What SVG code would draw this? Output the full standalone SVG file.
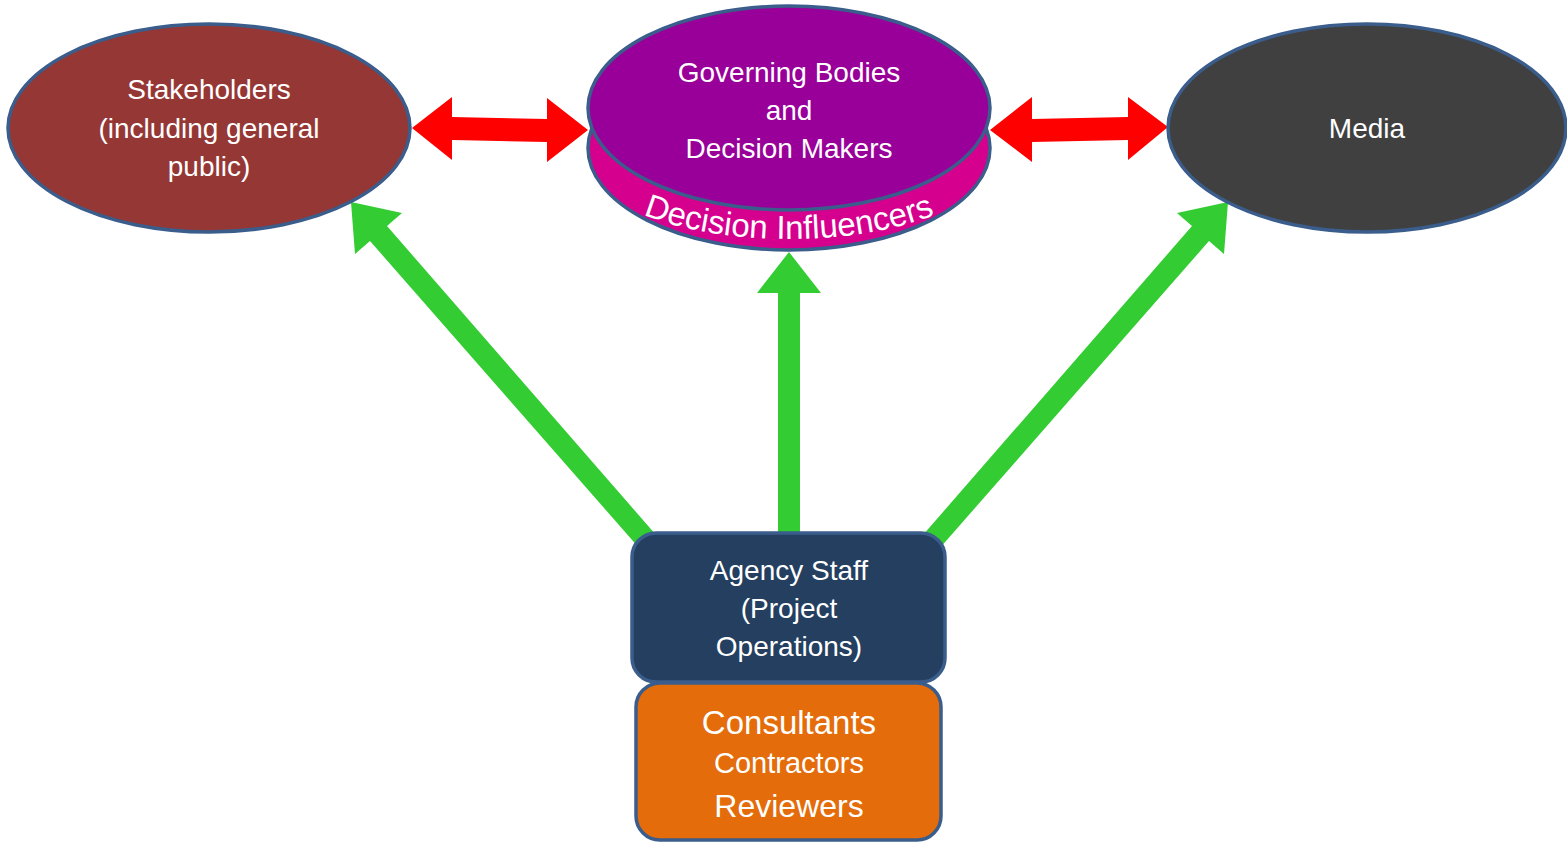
<svg xmlns="http://www.w3.org/2000/svg" width="1567" height="843" viewBox="0 0 1567 843">
<style>
.n{stroke:#3A5D8C;stroke-width:3.5}
.t{font-family:"Liberation Sans","Open Sans",sans-serif;fill:#fff;text-anchor:middle;font-size:28px}
.g{fill:#33CC33}
.r{fill:#FF0000}
</style>
<defs>
<path id="arc" d="M 574,148 A 215,91 0 0 0 1004,148"/>
</defs>
<rect width="1567" height="843" fill="#fff"/>
<g id="connectors">
<polygon class="r" points="412,128 452,97 452,117 547,119 547,98 588,130 547,162 547,142 452,140 452,160"/>
<polygon class="r" points="990,130 1032,97 1032,119 1128,117 1128,97 1168,127 1128,160 1128,140 1032,142 1032,162"/>
<polygon class="g" points="351,202 402,213 387,226 663,543 647,557 370,241 355,254"/>
<polygon class="g" points="1228,202 1177,213 1192,226 916,543 932,557 1209,241 1224,254"/>
<polygon class="g" points="789,252 821,293 800,293 800,540 778,540 778,293 757,293"/>
</g>
<g id="stakeholders">
<ellipse class="n" cx="209" cy="128" rx="201" ry="104" fill="#953735"/>
<text class="t" x="209" y="99">Stakeholders</text>
<text class="t" x="209" y="138">(including general</text>
<text class="t" x="209" y="176">public)</text>
</g>
<g id="governing">
<ellipse class="n" cx="789" cy="148" rx="201" ry="102" fill="#D6008F"/>
<ellipse class="n" cx="789" cy="108" rx="201" ry="102" fill="#990099"/>
<text class="t" x="789" y="82">Governing Bodies</text>
<text class="t" x="789" y="120">and</text>
<text class="t" x="789" y="158">Decision Makers</text>
<text class="t" style="font-size:33px"><textPath href="#arc" startOffset="50%">Decision Influencers</textPath></text>
</g>
<g id="media">
<ellipse class="n" cx="1367" cy="128" rx="199" ry="104" fill="#404040"/>
<text class="t" x="1367" y="138">Media</text>
</g>
<g id="agency">
<rect class="n" x="632" y="533" width="313" height="149" rx="24" fill="#243F60"/>
<text class="t" x="789" y="580">Agency Staff</text>
<text class="t" x="789" y="618">(Project</text>
<text class="t" x="789" y="656">Operations)</text>
</g>
<g id="consultants">
<rect class="n" x="636" y="683" width="305" height="157" rx="24" fill="#E46C0A"/>
<text class="t" x="789" y="734" style="font-size:33px">Consultants</text>
<text class="t" x="789" y="773" style="font-size:29px">Contractors</text>
<text class="t" x="789" y="817" style="font-size:32px">Reviewers</text>
</g>
</svg>
